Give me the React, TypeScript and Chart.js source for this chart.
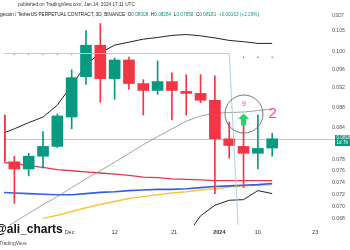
import React, { useEffect, useRef } from 'react';
import { Chart, registerables } from 'chart.js';

Chart.register(...registerables);

// ---- data ----
const candleIndex = [0, 1, 2, 3, 4, 5, 6, 7, 8, 9, 10, 11, 12, 13, 14, 15, 16, 17, 18, 19];
const opens = [0.08641, 0.07758, 0.0763, 0.07858, 0.08038, 0.08602, 0.09438, 0.10147, 0.09396, 0.09808, 0.0929, 0.09144, 0.09332, 0.09123, 0.09082, 0.08939, 0.0818, 0.08038, 0.07911, 0.08008];
const highs = [0.0875, 0.07858, 0.07911, 0.08315, 0.08661, 0.09588, 0.10497, 0.10665, 0.09852, 0.09875, 0.09374, 0.09786, 0.09524, 0.09481, 0.09481, 0.09459, 0.08505, 0.08448, 0.08641, 0.08284];
const lows = [0.0768, 0.0705, 0.0751, 0.07647, 0.0802, 0.08371, 0.09269, 0.08899, 0.08959, 0.09164, 0.08641, 0.09061, 0.08544, 0.08641, 0.0889, 0.0721, 0.07822, 0.0731, 0.0763, 0.07858];
const closes = [0.07769, 0.0763, 0.07858, 0.08038, 0.08622, 0.09417, 0.10147, 0.09396, 0.09808, 0.0929, 0.09144, 0.09332, 0.09144, 0.09082, 0.08939, 0.0818, 0.08055, 0.07911, 0.08001, 0.08181];

const upperBand = [0.0826, 0.0837, 0.0849, 0.086, 0.0884, 0.0925, 0.097, 0.0997, 0.1015, 0.1022, 0.1029, 0.1033, 0.1038, 0.104, 0.1037, 0.1032, 0.1026, 0.1023, 0.1019, 0.1019];
const middleBand = [0.0662, 0.0675, 0.0689, 0.0703, 0.0716, 0.0731, 0.0746, 0.076, 0.0775, 0.0791, 0.0807, 0.0822, 0.0837, 0.0852, 0.0862, 0.0868, 0.0869, 0.087, 0.0873, 0.0876];
const lowerBand = [0.05, 0.0513, 0.0529, 0.0546, 0.0548, 0.0537, 0.0522, 0.0523, 0.0535, 0.056, 0.0585, 0.0611, 0.0636, 0.0654, 0.0685, 0.0702, 0.071, 0.0711, 0.0726, 0.0721];
const redMA = [0.0775, 0.0773, 0.0769, 0.0766, 0.0762, 0.076, 0.0758, 0.0756, 0.0754, 0.0752, 0.0749, 0.0748, 0.0746, 0.0745, 0.0744, 0.0743, 0.0743, 0.0743, 0.0743, 0.0743];
const blueMA = [0.0723, 0.0722, 0.0721, 0.072, 0.0719, 0.0719, 0.0721, 0.0723, 0.0724, 0.0726, 0.0727, 0.0728, 0.0728, 0.0729, 0.0731, 0.0733, 0.0734, 0.0735, 0.0736, 0.0738];
const yellowMA = [null, null, null, 0.0681, 0.0686, 0.0692, 0.0698, 0.0703, 0.0708, 0.0713, 0.0716, 0.0719, 0.0722, 0.0724, 0.0727, 0.0729, 0.0732, 0.0734, 0.0735, 0.0736];

const grayDotIndex = [1, 2, 3, 4, 5];
const grayDotPrice = 0.0993;
const redDotIndex = [17, 18, 19];
const redDotPrice = 0.0987;

const yTickValues = [0.105, 0.1, 0.096, 0.092, 0.088, 0.084, 0.078, 0.076, 0.074, 0.072, 0.07, 0.068];
const yTickLabels = ['0.105', '0.100', '0.096', '0.092', '0.088', '0.084', '0.078', '0.076', '0.074', '0.072', '0.070', '0.068'];
const xTickPositions = [4.85, 8, 12.14, 15.31, 18, 22];
const xTickLabels = ['Dec', '12', '21', '2024', '10', '23'];

const lastPrice = 0.08181;
const lastPriceText = '0.08181';
const lastPriceTimer = '1d 7h';

// drawing annotations (data coordinates)
const boxTopPrice = 0.0997;
const boxCornerIndex = 16.0;
const boxFootIndex = 16.62;
const circleIndex = 17.03;
const circlePrice = 0.0866;
const countText = '9';
const countPrice = 0.08859;
const arrowIndex = 17.0;
const arrowPrice = 0.0855;
const bigText = '2';
const bigTextIndex = 19.03;
const bigTextPrice = 0.0866;

const X_MIN = 0.2759;
const X_MAX = 22.966;
const Y_MIN = 0.06707;
const Y_MAX = 0.11158;

const FONT = '"Liberation Sans", Arial, sans-serif';
const GREEN = '#089981';
const RED = '#f23645';

const overlayPlugin = {
  id: 'overlay',
  beforeDatasetsDraw(chart: any) {
    const { ctx, chartArea, scales } = chart;
    const y = scales.y;
    const py = Math.round(y.getPixelForValue(lastPrice)) + 0.5;
    ctx.save();
    ctx.strokeStyle = '#9ccfe2';
    ctx.lineWidth = 1;
    ctx.beginPath();
    ctx.moveTo(chartArea.left, py);
    ctx.lineTo(chart.width - 14, py);
    ctx.stroke();
    ctx.restore();
  },
  afterDatasetsDraw(chart: any) {
    const { ctx, chartArea, scales } = chart;
    const x = scales.x;
    const y = scales.y;
    ctx.save();
    // light blue drawing
    ctx.strokeStyle = '#a9d3e6';
    ctx.lineWidth = 1;
    ctx.beginPath();
    const ty = Math.round(y.getPixelForValue(boxTopPrice)) + 0.5;
    ctx.moveTo(chartArea.left, ty);
    ctx.lineTo(x.getPixelForValue(boxCornerIndex), ty);
    ctx.lineTo(x.getPixelForValue(boxFootIndex), chartArea.bottom);
    ctx.stroke();

    // circle
    const cx = x.getPixelForValue(circleIndex);
    const cy = y.getPixelForValue(circlePrice);
    ctx.strokeStyle = '#666';
    ctx.lineWidth = 0.9;
    ctx.beginPath();
    ctx.arc(cx, cy, 19, 0, Math.PI * 2);
    ctx.stroke();

    // count text
    ctx.fillStyle = '#e8505b';
    ctx.font = `7px ${FONT}`;
    ctx.textAlign = 'center';
    ctx.textBaseline = 'middle';
    ctx.fillText(countText, cx, y.getPixelForValue(countPrice));

    // green arrow
    const ax = x.getPixelForValue(arrowIndex);
    const ay = y.getPixelForValue(arrowPrice);
    ctx.fillStyle = '#22d46c';
    ctx.beginPath();
    ctx.moveTo(ax, ay - 6);
    ctx.lineTo(ax + 5.5, ay - 0.5);
    ctx.lineTo(ax + 2.5, ay - 0.5);
    ctx.lineTo(ax + 2.5, ay + 6);
    ctx.lineTo(ax - 2.5, ay + 6);
    ctx.lineTo(ax - 2.5, ay - 0.5);
    ctx.lineTo(ax - 5.5, ay - 0.5);
    ctx.closePath();
    ctx.fill();

    // big red 2
    ctx.fillStyle = '#ef5363';
    ctx.font = `15px ${FONT}`;
    ctx.fillText(bigText, x.getPixelForValue(bigTextIndex), y.getPixelForValue(bigTextPrice));
    ctx.restore();
  },
  afterDraw(chart: any) {
    const { ctx, scales } = chart;
    const y = scales.y;
    const py = y.getPixelForValue(lastPrice);
    ctx.save();
    ctx.fillStyle = GREEN;
    ctx.fillRect(335, Math.round(py) - 4, 16, 11);
    ctx.fillStyle = '#fff';
    ctx.font = `4.6px ${FONT}`;
    ctx.textAlign = 'left';
    ctx.textBaseline = 'middle';
    ctx.fillText(lastPriceText, 336.5, Math.round(py) - 0.8);
    ctx.fillText(lastPriceTimer, 336.5, Math.round(py) + 4);
    ctx.restore();
  },
};

function App() {
  const canvasRef = useRef<HTMLCanvasElement | null>(null);

  useEffect(() => {
    const canvas = canvasRef.current;
    if (!canvas) return;
    const colors = candleIndex.map((_, i) => (closes[i] >= opens[i] ? GREEN : RED));
    const line = (label: string, arr: (number | null)[], color: string, width: number, order: number) => ({
      type: 'line' as const,
      label,
      data: candleIndex.map((xv, i) => ({ x: xv, y: arr[i] })),
      borderColor: color,
      borderWidth: width,
      pointRadius: 0,
      tension: 0,
      spanGaps: false,
      order,
    });
    const chart = new Chart(canvas, {
      type: 'bar',
      data: {
        datasets: [
          {
            type: 'bar',
            label: 'body',
            data: candleIndex.map((xv, i) => ({ x: xv, y: [opens[i], closes[i]] })) as any,
            backgroundColor: colors,
            borderWidth: 0,
            grouped: false,
            barPercentage: 1,
            categoryPercentage: 1,
            maxBarThickness: 11,
            order: 0,
          } as any,
          {
            type: 'bar',
            label: 'wick',
            data: candleIndex.map((xv, i) => ({ x: xv, y: [lows[i], highs[i]] })) as any,
            backgroundColor: colors,
            borderWidth: 0,
            grouped: false,
            barPercentage: 1,
            categoryPercentage: 1,
            maxBarThickness: 1,
            order: 1,
          } as any,
          line('upper', upperBand, '#1e222d', 1, 3),
          line('middle', middleBand, '#8c8c8c', 0.8, 3),
          line('lower', lowerBand, '#1e222d', 1, 3),
          line('red', redMA, '#dc3a50', 1.3, 4),
          line('yellow', yellowMA, '#f5c644', 1.5, 5),
          line('blue', blueMA, '#3461d8', 1.6, 4),
          {
            type: 'line',
            label: 'grayDots',
            data: grayDotIndex.map((xv) => ({ x: xv, y: grayDotPrice })),
            showLine: false,
            pointRadius: 0.7,
            pointBorderWidth: 0,
            pointBackgroundColor: '#888',
            order: 2,
          } as any,
          {
            type: 'line',
            label: 'redDots',
            data: redDotIndex.map((xv) => ({ x: xv, y: redDotPrice })),
            showLine: false,
            pointRadius: 0.7,
            pointBorderWidth: 0,
            pointBackgroundColor: '#c0404c',
            order: 2,
          } as any,
        ],
      },
      options: {
        responsive: false,
        animation: false,
        devicePixelRatio: 1,
        events: [],
        layout: { padding: 0 },
        plugins: { legend: { display: false }, tooltip: { enabled: false } },
        scales: {
          x: {
            type: 'linear',
            min: X_MIN,
            max: X_MAX,
            bounds: 'data',
            offset: false,
            grid: { display: false, drawTicks: false },
            border: { display: false },
            afterBuildTicks: (scale: any) => {
              scale.ticks = xTickPositions.map((v) => ({ value: v }));
            },
            afterFit: (scale: any) => {
              scale.height = 25;
              scale.paddingLeft = 0;
              scale.paddingRight = 0;
            },
            ticks: {
              autoSkip: false,
              maxRotation: 0,
              padding: 4,
              color: '#333',
              font: (c: any) => ({
                family: FONT,
                size: 5.5,
                weight: c.tick && c.tick.label === '2024' ? 'bold' : 'normal',
              }),
              callback: (_v: any, i: number) => xTickLabels[i],
            },
          },
          y: {
            type: 'logarithmic',
            position: 'right',
            min: Y_MIN,
            max: Y_MAX,
            bounds: 'data',
            grid: { display: false, drawTicks: false },
            border: { display: false },
            afterBuildTicks: (scale: any) => {
              scale.ticks = yTickValues.map((v) => ({ value: v }));
            },
            afterFit: (scale: any) => {
              scale.width = 21;
              scale.paddingTop = 0;
              scale.paddingBottom = 0;
            },
            ticks: {
              autoSkip: false,
              padding: 3,
              color: '#555',
              font: { family: FONT, size: 5.2 },
              callback: (_v: any, i: number) => yTickLabels[i],
            },
          },
        },
      } as any,
      plugins: [overlayPlugin],
    });
    return () => chart.destroy();
  }, []);

  const hdr: React.CSSProperties = {
    position: 'absolute',
    whiteSpace: 'nowrap',
    fontFamily: FONT,
    lineHeight: 1,
    color: '#131722',
  };
  const teal: React.CSSProperties = { color: GREEN };

  return (
    <div style={{ position: 'fixed', left: 0, top: 0, width: 350, height: 250, overflow: 'hidden', background: '#fff' }}>
      <canvas ref={canvasRef} width={350} height={250} style={{ position: 'absolute', left: 0, top: 0 }} />
      <div style={{ ...hdr, left: 18, top: 3.3, fontSize: 4.7, color: '#333' }}>
        published on TradingView.com, Jan 14, 2024 17:11 UTC
      </div>
      <div style={{ ...hdr, left: -6, top: 13.3, fontSize: 4.7 }}>
        Dogecoin / TetherUS PERPETUAL CONTRACT, 3D, BINANCE&nbsp;&nbsp;O<span style={teal}>0.08008</span>&nbsp;&nbsp;H
        <span style={teal}>0.08284</span>&nbsp;&nbsp;L<span style={teal}>0.07858</span>&nbsp;&nbsp;C
        <span style={teal}>0.08181</span>&nbsp;&nbsp;<span style={teal}>+0.00163 (+2.29%)</span>
      </div>
      <div style={{ ...hdr, left: 332, top: 13.8, fontSize: 4.5, color: '#555' }}>USDT</div>
      <div style={{ ...hdr, left: -5, top: 222.8, fontSize: 12, fontWeight: 'bold', color: '#111' }}>@ali_charts</div>
      <div style={{ ...hdr, left: -1, top: 240.5, fontSize: 5, color: '#555' }}>TradingView</div>
    </div>
  );
}

export default App;
